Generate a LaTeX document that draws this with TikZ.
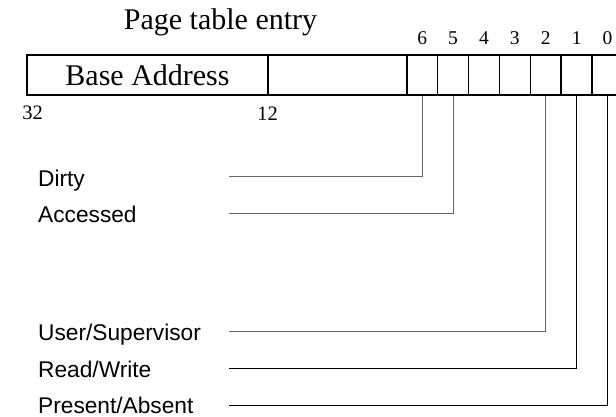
\documentclass[tikz,border=0pt]{standalone}
\usepackage{fontspec}
\setmainfont{Liberation Serif}
\setsansfont{Liberation Sans}
\usepackage{tikz}

\begin{document}
\begin{tikzpicture}
  [x=1pt,y=-1pt,
   cell/.style={draw,line width=1.6pt,minimum height=40pt,minimum width=30.9pt,inner sep=0pt,
     font=\fontsize{30}{34}\selectfont},
   num/.style={anchor=base,inner sep=0pt,font=\fontsize{19.5}{22}\selectfont},
   flag/.style={anchor=base west,inner sep=0pt,font=\sffamily\fontsize{22.7}{26}\selectfont},
   lead/.style={line width=0.9pt,black!60},
   leadk/.style={line width=0.9pt,black}]
  \useasboundingbox (0,0) rectangle (616,417);

  \node[anchor=base,inner sep=0pt,font=\fontsize{30}{34}\selectfont] (title) at (220.5,30) {Page table entry};

  % the entry itself
  \node[cell,minimum width=241pt] (base) at (147.5,75) {Base Address};
  \node[cell,minimum width=138.7pt] (rsvd) at (337.35,75) {};
  \foreach \b [count=\i from 0] in {6,5,4,3,2,1,0}
    \node[cell] (b\b) at ({422.15+30.9*\i},75) {};

  % bit numbers
  \foreach \b [count=\i from 0] in {6,5,4,3,2,1,0}
    \node[num] (n\b) at ({422.15+30.9*\i},45) {\b};
  \node[num,font=\fontsize{20.5}{24}\selectfont] (n32) at (32.5,120) {32};
  \node[num,font=\fontsize{20.5}{24}\selectfont] (n12) at (267.5,121) {12};

  % flags
  \node[flag] (dirty) at (38,186) {Dirty};
  \node[flag] (accessed) at (38,222.5) {Accessed};
  \node[flag] (user) at (38,340.5) {User/Supervisor};
  \node[flag] (rw) at (38,377) {Read/Write};
  \node[flag] (present) at (38,413) {Present/Absent};

  \coordinate (e6) at (228.7,176.3);
  \coordinate (e5) at (228.7,213.7);
  \coordinate (e2) at (228.7,331);
  \coordinate (e1) at (228.7,368.3);
  \coordinate (e0) at (228.7,405.7);

  \foreach \from/\to in {b6/e6,b5/e5,b2/e2}
    \draw[lead] (\from.south) |- (\to);
  \foreach \from/\to in {b1/e1,b0/e0}
    \draw[leadk] (\from.south) |- (\to);
\end{tikzpicture}
\end{document}
